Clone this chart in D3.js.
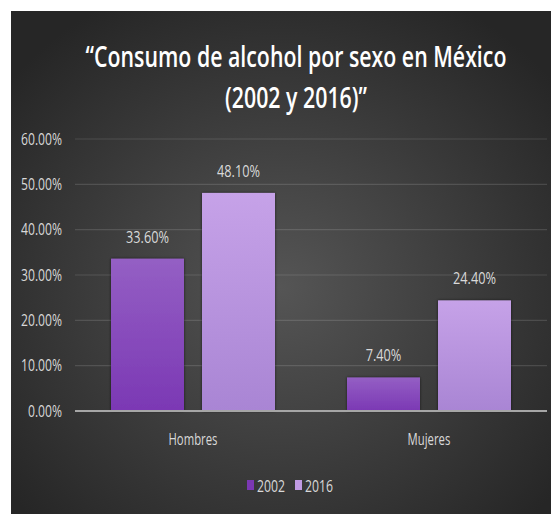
<!DOCTYPE html>
<html>
<head>
<meta charset="utf-8">
<script src="https://cdn.jsdelivr.net/npm/d3@7"></script>
<style>
  body { margin: 0; background: #fff; }
  text { font-family: "Open Sans", sans-serif; }
</style>
</head>
<body>
<script>
// datos
const categorias = ["Hombres", "Mujeres"];
const series = ["2002", "2016"];
const valores2002 = [33.6, 7.4];
const valores2016 = [48.1, 24.4];
const ticksY = [0, 10, 20, 30, 40, 50, 60];

const w = 551, h = 514;
const plot = { left: 75, right: 547, top: 139, bottom: 411 };

const svg = d3.select("body").append("svg")
  .attr("width", w)
  .attr("height", h);

const defs = svg.append("defs");

// la fuente original es estrecha (tipo Calibri): se estrecha el texto
// con scale(f,1) para que el primer elemento mida "ancho" px
function condensar(sel, ancho) {
  const f = ancho / sel.node().getComputedTextLength();
  sel.each(function() {
    const t = d3.select(this);
    const x = +t.attr("x") || 0, yy = +t.attr("y") || 0;
    t.attr("x", 0).attr("y", 0)
      .attr("transform", "translate(" + x + "," + yy + ") scale(" + f + ",1)");
  });
}

// fondo con degradado radial
const bg = defs.append("radialGradient")
  .attr("id", "fondo")
  .attr("cx", "0.5").attr("cy", "0.55").attr("r", "0.65");
bg.append("stop").attr("offset", "0%").attr("stop-color", "#555555");
bg.append("stop").attr("offset", "100%").attr("stop-color", "#262626");

function gradiente(id, arriba, abajo) {
  const g = defs.append("linearGradient").attr("id", id)
    .attr("x1", 0).attr("y1", 0).attr("x2", 0).attr("y2", 1);
  g.append("stop").attr("offset", "0%").attr("stop-color", arriba);
  g.append("stop").attr("offset", "100%").attr("stop-color", abajo);
}
gradiente("g2002", "#945fc4", "#7b38b4");
gradiente("g2016", "#c6a2e8", "#a985d4");

const sombra = defs.append("filter").attr("id", "sombra")
  .attr("x", "-20%").attr("y", "-20%").attr("width", "140%").attr("height", "140%");
sombra.append("feDropShadow").attr("dx", 0).attr("dy", 0)
  .attr("stdDeviation", 1.5).attr("flood-color", "#000").attr("flood-opacity", 0.6);

svg.append("rect")
  .attr("x", 11).attr("y", 11)
  .attr("width", w - 11).attr("height", h - 11)
  .attr("fill", "url(#fondo)");

// titulo
const lineasTitulo = ["“Consumo de alcohol por sexo en México", "(2002 y 2016)”"];
const titulo = svg.append("g").selectAll("text")
  .data(lineasTitulo)
  .join("text")
  .attr("x", 296)
  .attr("y", (d, i) => 67 + i * 41)
  .attr("text-anchor", "middle")
  .attr("fill", "#ffffff")
  .style("font-weight", 600)
  .attr("font-size", "28px")
  .text(d => d);
condensar(titulo, 421);

// escalas
const y = d3.scaleLinear().domain([0, 60]).range([plot.bottom, plot.top]);
const x0 = d3.scaleBand().domain(categorias).range([plot.left, plot.right]);
const x1 = d3.scaleBand().domain(series)
  .range([36, x0.bandwidth() - 36])
  .paddingInner(0.198);

// lineas de cuadricula
svg.append("g")
  .selectAll("line")
  .data(ticksY.slice(1))
  .join("line")
  .attr("x1", plot.left).attr("x2", plot.right)
  .attr("y1", d => y(d)).attr("y2", d => y(d))
  .attr("stroke", "#ffffff")
  .attr("stroke-opacity", 0.13)
  .attr("stroke-width", 1.2);

// eje y
const ejeY = svg.append("g")
  .attr("transform", "translate(62,0)")
  .call(d3.axisLeft(y).tickValues(ticksY).tickSize(0).tickPadding(0)
    .tickFormat(d => d.toFixed(2) + "%"));
ejeY.select(".domain").remove();
const ticksTxt = ejeY.selectAll("text")
  .attr("fill", "#d9d9d9")
  .attr("font-size", "16px")
  .style("font-family", "'Open Sans', sans-serif");
// "60.00%" mide ~41px en la referencia
condensar(d3.selectAll(ticksTxt.nodes().reverse()), 41);

// barras
const datos = categorias.map((c, i) => ({ cat: c, vals: [
  { s: "2002", v: valores2002[i] },
  { s: "2016", v: valores2016[i] }
]}));

const grupos = svg.append("g").selectAll("g")
  .data(datos)
  .join("g")
  .attr("transform", d => "translate(" + x0(d.cat) + ",0)");

grupos.selectAll("rect")
  .data(d => d.vals)
  .join("rect")
  .attr("x", d => x1(d.s))
  .attr("y", d => y(d.v))
  .attr("width", x1.bandwidth())
  .attr("height", d => y(0) - y(d.v))
  .attr("fill", d => "url(#g" + d.s + ")")
  .attr("filter", "url(#sombra)");

const etiquetas = grupos.selectAll("text")
  .data(d => d.vals)
  .join("text")
  .attr("x", d => x1(d.s) + x1.bandwidth() / 2)
  .attr("y", d => y(d.v) - 16)
  .attr("text-anchor", "middle")
  .attr("fill", "#d9d9d9")
  .attr("font-size", "16px")
  .text(d => d.v.toFixed(2) + "%");
condensar(etiquetas, 43);

// eje x
svg.append("line")
  .attr("x1", plot.left).attr("x2", plot.right)
  .attr("y1", plot.bottom).attr("y2", plot.bottom)
  .attr("stroke", "#a6a6a6")
  .attr("stroke-width", 2);

const cats = svg.append("g")
  .selectAll("text")
  .data(categorias)
  .join("text")
  .attr("x", d => x0(d) + x0.bandwidth() / 2)
  .attr("y", 445)
  .attr("text-anchor", "middle")
  .attr("fill", "#d9d9d9")
  .attr("font-size", "16px")
  .text(d => d);
condensar(cats, 49);

// leyenda
const colLeyenda = { "2002": "#7b38b4", "2016": "#c09be4" };
const leyenda = svg.append("g").selectAll("g")
  .data(series)
  .join("g")
  .attr("transform", (d, i) => "translate(" + (247 + i * 48) + ",480)");
leyenda.append("rect")
  .attr("width", 7).attr("height", 10)
  .attr("fill", d => colLeyenda[d]);
const txtLeyenda = leyenda.append("text")
  .attr("x", 10).attr("y", 12)
  .attr("fill", "#d9d9d9")
  .attr("font-size", "16px")
  .text(d => d);
condensar(txtLeyenda, 28);
</script>
</body>
</html>
